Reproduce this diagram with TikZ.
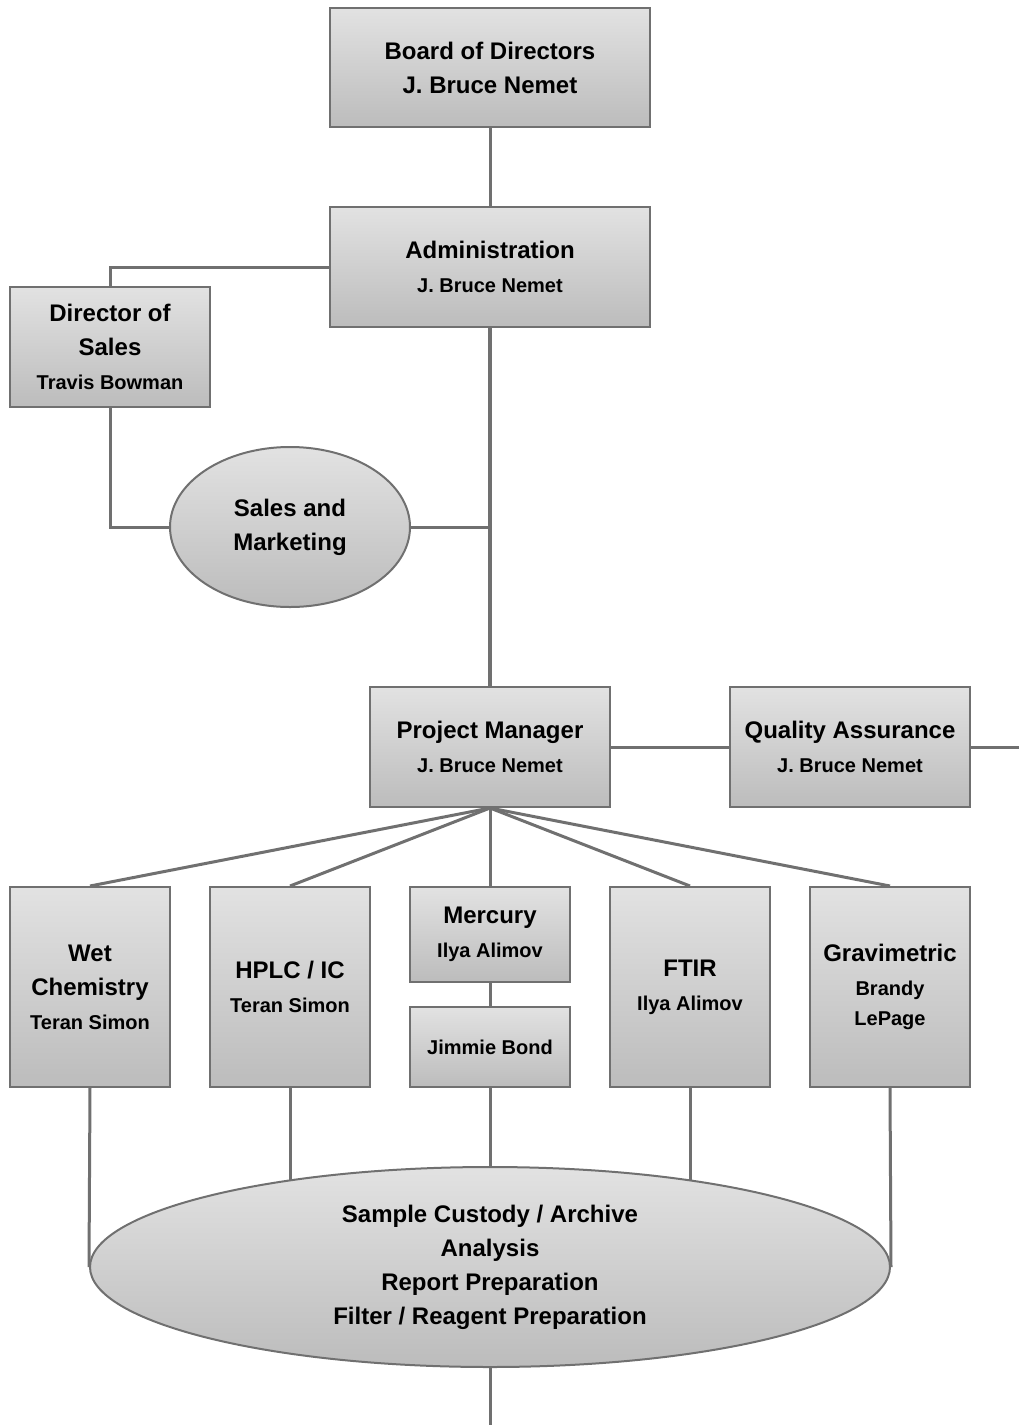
\documentclass[tikz,border=0pt]{standalone}
\usepackage{fontspec}
\setmainfont{Liberation Sans}
\usetikzlibrary{shapes.geometric}
\definecolor{lnc}{RGB}{112,112,112}
\definecolor{topc}{RGB}{226,226,226}
\definecolor{botc}{RGB}{188,188,188}
\pgfdeclarelayer{bg}\pgfsetlayers{bg,main}
\newcommand\smtxt[1]{{\fontsize{20}{34}\selectfont #1}}
\tikzset{
  box/.style={rectangle, draw=lnc, line width=2pt, top color=topc, bottom color=botc,
    inner sep=0pt, align=center, font=\bfseries\fontsize{24}{34}\selectfont},
  oval/.style={ellipse, draw=lnc, line width=2pt, top color=topc, bottom color=botc,
    inner sep=0pt, align=center, font=\bfseries\fontsize{24}{34}\selectfont},
  conn/.style={draw=lnc, line width=3pt},
  mainconn/.style={draw=lnc, line width=4pt},
}
\begin{document}
\begin{tikzpicture}[x=1pt,y=-1pt]
\useasboundingbox (0,0) rectangle (1019,1425);
\node[box, minimum width=320pt, minimum height=119pt] (board) at (490,67.5) {Board of Directors\\J. Bruce Nemet};
\node[box, minimum width=320pt, minimum height=120pt] (adm) at (490,267) {Administration\\\smtxt{J. Bruce Nemet}};
\node[box, minimum width=200pt, minimum height=120pt] (dos) at (110,347) {Director of\\Sales\\\smtxt{Travis Bowman}};
\node[oval, minimum width=240pt, minimum height=160pt] (sm) at (290,527) {Sales and\\Marketing};
\node[box, minimum width=240pt, minimum height=120pt] (pm) at (490,747) {Project Manager\\\smtxt{J. Bruce Nemet}};
\node[box, minimum width=240pt, minimum height=120pt] (qa) at (850,747) {Quality Assurance\\\smtxt{J. Bruce Nemet}};
\node[box, minimum width=160pt, minimum height=200pt] (wet) at (90,987) {Wet\\Chemistry\\\smtxt{Teran Simon}};
\node[box, minimum width=160pt, minimum height=200pt] (hplc) at (290,987) {HPLC / IC\\\smtxt{Teran Simon}};
\node[box, minimum width=160pt, minimum height=95pt] (merc) at (490,934.5) {Mercury\\\smtxt{Ilya Alimov}};
\node[box, minimum width=160pt, minimum height=80pt] (jb) at (490,1047) {\smtxt{Jimmie Bond}};
\node[box, minimum width=160pt, minimum height=200pt] (ftir) at (690,987) {FTIR\\\smtxt{Ilya Alimov}};
\node[box, minimum width=160pt, minimum height=200pt] (grav) at (890,987) {Gravimetric\\\smtxt{Brandy}\\[-4pt]\smtxt{LePage}};
\node[oval, minimum width=800pt, minimum height=200pt] (big) at (490,1267) {Sample Custody / Archive\\Analysis\\Report Preparation\\Filter / Reagent Preparation};
\coordinate (qaend) at (1019,747);
\coordinate (bigend) at (490,1425);
\begin{pgfonlayer}{bg}
\draw[conn] (board.south) -- (adm.north);
\draw[conn] (adm.west) -| (dos.north);
\draw[conn] (dos.south) |- (sm.west);
\draw[conn] (sm.east) -- (sm.east -| adm.south);
\draw[mainconn] (adm.south) -- (pm.north);
\draw[conn] (pm.east) -- (qa.west);
\draw[conn] (qa.east) -- (qaend);
\draw[conn] (pm.south) -- (wet.north);
\draw[conn] (pm.south) -- (hplc.north);
\draw[conn] (pm.south) -- (merc.north);
\draw[conn] (pm.south) -- (ftir.north);
\draw[conn] (pm.south) -- (grav.north);
\draw[conn] (merc.south) -- (jb.north);
\draw[conn] (wet.south) -- (big.west);
\draw[conn] (grav.south) -- (big.east);
\draw[conn] (hplc.south) -- (hplc.south |- big.center);
\draw[conn] (jb.south) -- (big.north);
\draw[conn] (ftir.south) -- (ftir.south |- big.center);
\draw[conn] (big.south) -- (bigend);
\end{pgfonlayer}
\end{tikzpicture}
\end{document}
